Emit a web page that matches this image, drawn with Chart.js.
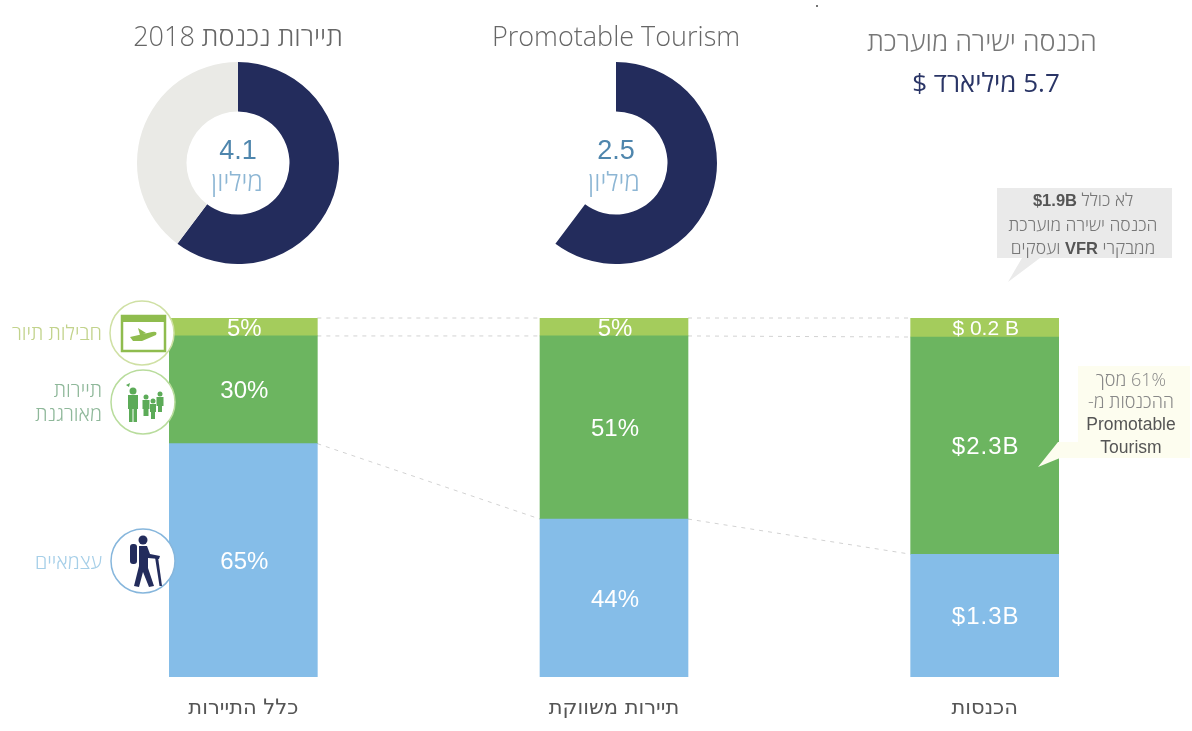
<!DOCTYPE html>
<html lang="he">
<head>
<meta charset="utf-8">
<title>Tourism</title>
<script src="https://cdn.jsdelivr.net/npm/chart.js@4"></script>
<style>
  html, body { margin: 0; background: #fff; }
  #page { position: relative; width: 1192px; height: 731px; overflow: hidden; font-family: "Open Sans", "Liberation Sans", sans-serif; font-weight: 300; }
  canvas, svg { position: absolute; }
  .txt { position: absolute; white-space: nowrap; text-align: center; transform: translate(-50%, -50%); line-height: 1.2; }
  .side { position: absolute; white-space: nowrap; text-align: right; width: 100px; left: 2px; font-size: 20px; line-height: 24px; }
  b { font-family: "Liberation Sans", sans-serif; color: #555; }
</style>
</head>
<body>
<div id="page">
  <canvas id="bars" width="1192" height="731" style="left:0;top:0"></canvas>
  <canvas id="donutAll" width="202" height="202" style="left:137px;top:62px"></canvas>
  <canvas id="donutPromo" width="202" height="202" style="left:515px;top:62px"></canvas>

  <svg width="1192" height="731" style="left:0;top:0">
    <circle cx="817" cy="6" r="1" fill="#444"/>
    <!-- callouts -->
    <polygon points="997,188 1172,188 1172,258 1040,258 1008,282 1022,258 997,258" fill="#eaeaea"/>
    <polygon points="1078,366 1190,366 1190,458 1060,458 1038,467 1058,442 1078,442" fill="#fdfdef"/>
    <!-- packages icon -->
    <circle cx="142" cy="333" r="32" fill="#fff" stroke="#cfe0a4" stroke-width="1.5"/>
    <rect x="122" y="316" width="43" height="35" fill="none" stroke="#8fbc4e" stroke-width="2.5"/>
    <rect x="122" y="316" width="43" height="6" fill="#8fbc4e"/>
    <path d="M130 337 L152 332 Q158 331 156 335 L142 341 L133 341 Z M138 328 L146 333 L140 335 Z" fill="#8fbc4e"/>
    <!-- organized icon -->
    <circle cx="143" cy="402" r="32" fill="#fff" stroke="#b8dc9c" stroke-width="1.5"/>
    <g fill="#5cab58">
      <circle cx="133" cy="391" r="3.5"/><rect x="128" y="395" width="10" height="14"/><rect x="129" y="409" width="3.5" height="13"/><rect x="133.5" y="409" width="3.5" height="13"/>
      <path d="M126 385 L130 383 L129 387 Z"/>
      <circle cx="146" cy="397" r="2.5"/><rect x="142.5" y="400" width="7" height="9"/><rect x="143.5" y="409" width="5" height="7"/>
      <circle cx="153" cy="401" r="2.5"/><rect x="150" y="404" width="6" height="8"/><rect x="151" y="412" width="4" height="7"/>
      <circle cx="160" cy="394" r="2.5"/><rect x="156.5" y="397" width="7" height="9"/><rect x="158" y="406" width="4" height="6"/>
    </g>
    <!-- independent icon -->
    <circle cx="143" cy="561" r="32" fill="#fff" stroke="#86b6dc" stroke-width="1.5"/>
    <g fill="#232c5c">
      <circle cx="143" cy="540" r="4.5"/>
      <rect x="130" y="544" width="7" height="20" rx="3"/>
      <path d="M139 546 L147 546 L150 554 L160 556 L159 559 L148 558 L148 568 L154 586 L149 587 L143 572 L139 587 L134 586 L139 566 Z"/>
      <path d="M155 557 L158 557 L162 586 L159.5 586 Z"/>
    </g>
  </svg>

  <div class="txt" style="left:238px;top:36px;font-size:27px;color:#666">תיירות נכנסת 2018</div>
  <div class="txt" style="left:616px;top:36px;font-size:27px;color:#666">Promotable Tourism</div>
  <div class="txt" style="left:982px;top:41px;font-size:27px;color:#777">הכנסה ישירה מוערכת</div>
  <div class="txt" dir="rtl" style="left:986px;top:83px;font-size:26px;font-weight:400;color:#2a3566">5.7 מיליארד $</div>

  <div class="txt" style="left:238px;top:150px;font-size:27px;color:#4f86ad;font-family:'Liberation Sans'">4.1</div>
  <div class="txt" style="left:237px;top:182px;font-size:26px;color:#8db6d4">מיליון</div>
  <div class="txt" style="left:616px;top:150px;font-size:27px;color:#4f86ad;font-family:'Liberation Sans'">2.5</div>
  <div class="txt" style="left:614px;top:182px;font-size:26px;color:#8db6d4">מיליון</div>

  <div class="side" style="top:321px;color:#c2d38c">חבילות תיור</div>
  <div class="side" style="top:378px;color:#8fb89a">תיירות<br>מאורגנת</div>
  <div class="side" style="top:550px;color:#a6cfe8">עצמאיים</div>

  <div class="txt" dir="rtl" style="left:1083px;top:224px;font-size:17.5px;line-height:23.5px;color:#777">לא כולל <b style="font-size:16.5px;font-weight:700">$1.9B</b><br>הכנסה ישירה מוערכת<br>ממבקרי <b style="font-size:16.5px;font-weight:700">VFR</b> ועסקים</div>
  <div class="txt" dir="rtl" style="left:1131px;top:413px;font-size:18px;line-height:22px;color:#888">61% מסך<br>ההכנסות מ-<br><b style="font-size:17.5px">Promotable<br>Tourism</b></div>
</div>

<script>
const categories = ['כלל התיירות', 'תיירות משווקת', 'הכנסות'];
const independentShare = [65, 44, 34.2];
const organizedShare = [30, 51, 60.5];
const packagesShare = [5, 5, 5.3];
const independentLabels = ['65%', '44%', '$1.3B'];
const organizedLabels = ['30%', '51%', '$2.3B'];
const packagesLabels = ['5%', '5%', '$ 0.2 B'];
const donutAllValues = [2.5, 1.65];
const donutPromoValues = [2.5, 1.65];

const segmentLabels = [independentLabels, organizedLabels, packagesLabels];

// dashed lines joining the segment tops from one bar to the next
const connectors = {
  id: 'connectors',
  beforeDatasetsDraw(chart) {
    const ctx = chart.ctx;
    ctx.save();
    ctx.strokeStyle = '#d2d2d2';
    ctx.lineWidth = 1;
    ctx.setLineDash([4, 5]);
    chart.data.datasets.forEach((ds, i) => {
      const bars = chart.getDatasetMeta(i).data;
      for (let j = 0; j < bars.length - 1; j++) {
        ctx.beginPath();
        ctx.moveTo(bars[j].x + bars[j].width / 2, bars[j].y);
        ctx.lineTo(bars[j + 1].x - bars[j + 1].width / 2, bars[j + 1].y);
        ctx.stroke();
      }
    });
    ctx.restore();
  }
};

// value text in the middle of each segment
const segmentText = {
  id: 'segmentText',
  afterDatasetsDraw(chart) {
    const ctx = chart.ctx;
    ctx.save();
    ctx.fillStyle = '#fff';
    ctx.textAlign = 'center';
    ctx.textBaseline = 'middle';
    chart.data.datasets.forEach((ds, i) => {
      chart.getDatasetMeta(i).data.forEach((bar, j) => {
        const text = segmentLabels[i][j];
        ctx.font = (text.includes(' ') ? '21px' : '24px') + ' "Liberation Sans"';
        ctx.letterSpacing = text.startsWith('$') && !text.includes(' ') ? '1px' : '0px';
        ctx.fillText(text, bar.x + 1, (bar.y + bar.base) / 2 + 2);
      });
    });
    ctx.restore();
  }
};

new Chart(document.getElementById('bars'), {
  type: 'bar',
  data: {
    labels: categories,
    datasets: [
      { label: 'עצמאיים', data: independentShare, backgroundColor: '#85bde8' },
      { label: 'תיירות מאורגנת', data: organizedShare, backgroundColor: '#6cb560' },
      { label: 'חבילות תיור', data: packagesShare, backgroundColor: '#a4cc5c' }
    ]
  },
  options: {
    responsive: false,
    animation: false,
    barThickness: 148,
    layout: { padding: { top: 318, left: 58, right: 22 } },
    plugins: { legend: { display: false }, tooltip: { enabled: false } },
    scales: {
      x: {
        stacked: true,
        grid: { display: false },
        border: { display: false },
        afterFit: scale => { scale.height = 54; },
        ticks: { padding: 11, color: '#555', font: { family: 'DejaVu Sans', size: 21 } }
      },
      y: { stacked: true, display: false, min: 0, max: 100 }
    }
  },
  plugins: [connectors, segmentText]
});

function renderDonut(id, values, restColor) {
  new Chart(document.getElementById(id), {
    type: 'doughnut',
    data: {
      labels: ['Promotable', 'Other'],
      datasets: [{ data: values, backgroundColor: ['#232c5c', restColor], borderWidth: 0 }]
    },
    options: {
      responsive: false,
      animation: false,
      cutout: '51%',
      plugins: { legend: { display: false }, tooltip: { enabled: false } }
    }
  });
}

renderDonut('donutAll', donutAllValues, '#eaeae6');
renderDonut('donutPromo', donutPromoValues, 'rgba(0,0,0,0)');
</script>
</body>
</html>
